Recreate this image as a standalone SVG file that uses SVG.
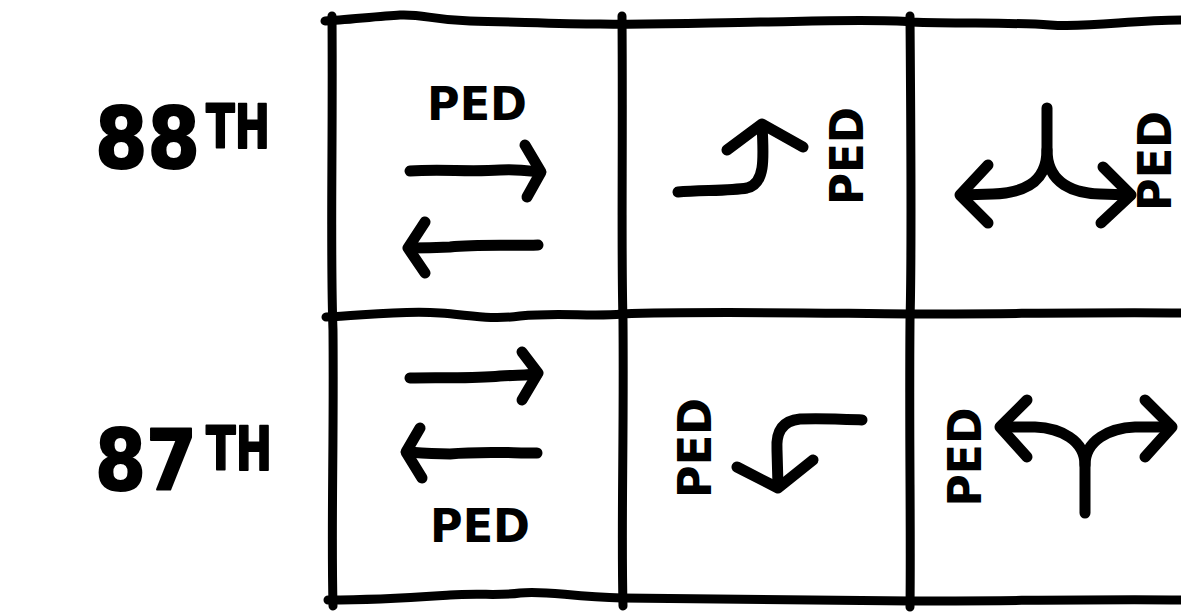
<svg xmlns="http://www.w3.org/2000/svg" width="1181" height="613" viewBox="0 0 1181 613">
<style>
.ln{fill:none;stroke:#000;stroke-width:9;stroke-linecap:round;stroke-linejoin:round}
.ar{fill:none;stroke:#000;stroke-width:11;stroke-linecap:round;stroke-linejoin:round}
.lbl{font-family:"DejaVu Sans","Liberation Sans",sans-serif;font-weight:bold;fill:#000;stroke:#000;stroke-width:2;stroke-linejoin:round}
.ped{font-family:"DejaVu Sans","Liberation Sans",sans-serif;font-weight:bold;font-size:46px;fill:#000;text-anchor:middle}
</style>
<rect width="1181" height="613" fill="#fff"/>
<g id="grid">
<path class="ln" d="M325,21 C345,20 380,16 400,15 C425,14 430,20 470,21 C520,22 560,24 600,24 C660,25 700,23 760,22 C820,21 880,19 911,22 C960,24 1010,22 1050,25 C1090,28 1130,20 1181,20"/>
<path class="ln" d="M326,317 C360,316 400,310 440,313 C470,315 490,320 520,316 C560,312 590,317 622,314 C700,311 800,313 911,314 C1000,314 1100,312 1181,313"/>
<path class="ln" d="M328,600 C380,600 420,597 450,595 C480,593 500,596 520,593 C545,590 570,597 622,598 C700,599 800,600 911,601 C1000,601 1100,599 1181,600"/>
<path class="ln" d="M332,16 C333,150 330,250 333,330 C334,450 331,520 333,606"/>
<path class="ln" d="M622,16 C623,150 621,250 623,320 C624,450 621,520 623,606"/>
<path class="ln" d="M910,16 C911,150 912,250 910,320 C909,450 911,520 910,607"/>
</g>
<g id="row-labels">
<text id="label-88th" class="lbl" x="95" y="168"><tspan font-size="84" textLength="105" lengthAdjust="spacingAndGlyphs">88</tspan><tspan font-size="60" x="206" y="148" textLength="64" lengthAdjust="spacingAndGlyphs">TH</tspan></text>
<text id="label-87th" class="lbl" x="95" y="490"><tspan font-size="84" textLength="102" lengthAdjust="spacingAndGlyphs">87</tspan><tspan font-size="60" x="206" y="470" textLength="66" lengthAdjust="spacingAndGlyphs">TH</tspan></text>
</g>
<g id="connectors">
<g id="cell-88-1">
<text class="ped" x="477" y="120" textLength="100" lengthAdjust="spacingAndGlyphs">PED</text>
<path class="ar" d="M410,171 C440,169 470,172 500,170 C520,169 530,171 540,172"/>
<path class="ar" d="M525,145 L541,172 L527,197"/>
<path class="ar" d="M538,245 C510,246 480,244 450,247 C430,248 420,248 409,248"/>
<path class="ar" d="M425,222 L408,248 L425,273"/>
</g>
<g id="cell-88-2">
<path class="ar" d="M678,192 C700,190 730,191 747,188 C765,184 764,160 762,125"/>
<path class="ar" d="M727,150 L762,124 L803,147"/>
<text class="ped" transform="translate(863,156) rotate(-90)" textLength="98" lengthAdjust="spacingAndGlyphs">PED</text>
</g>
<g id="cell-88-3">
<path class="ar" d="M1047,108 L1047,150 C1047,185 1020,193 993,194 L961,195"/>
<path class="ar" d="M1047,150 C1047,185 1075,193 1100,194 L1130,195"/>
<path class="ar" d="M988,165 L960,195 L988,223"/>
<path class="ar" d="M1103,167 L1131,195 L1101,223"/>
<text class="ped" transform="translate(1171,161) rotate(-90)" font-size="36" textLength="100" lengthAdjust="spacingAndGlyphs">PED</text>
</g>
<g id="cell-87-1">
<path class="ar" d="M410,378 C440,377 470,379 500,376 C520,375 530,375 537,374"/>
<path class="ar" d="M522,352 L538,373 L522,400"/>
<path class="ar" d="M537,453 C510,453 480,451 450,454 C430,454 420,453 407,452"/>
<path class="ar" d="M420,428 L406,452 L422,478"/>
<text class="ped" x="480" y="542" textLength="100" lengthAdjust="spacingAndGlyphs">PED</text>
</g>
<g id="cell-87-2">
<path class="ar" d="M862,420 C840,419 820,418 800,419 C780,421 776,435 777,450 L778,486"/>
<path class="ar" d="M737,467 L778,488 L813,460"/>
<text class="ped" transform="translate(711,448) rotate(-90)" textLength="100" lengthAdjust="spacingAndGlyphs">PED</text>
</g>
<g id="cell-87-3">
<path class="ar" d="M1085,513 L1085,465 C1085,440 1060,428 1035,427 L1001,427"/>
<path class="ar" d="M1085,465 C1085,440 1110,428 1135,427 L1171,427"/>
<path class="ar" d="M1027,400 L1000,427 L1027,457"/>
<path class="ar" d="M1145,400 L1172,427 L1145,457"/>
<text class="ped" transform="translate(981,457) rotate(-90)" textLength="99" lengthAdjust="spacingAndGlyphs">PED</text>
</g>
</g>
</svg>
